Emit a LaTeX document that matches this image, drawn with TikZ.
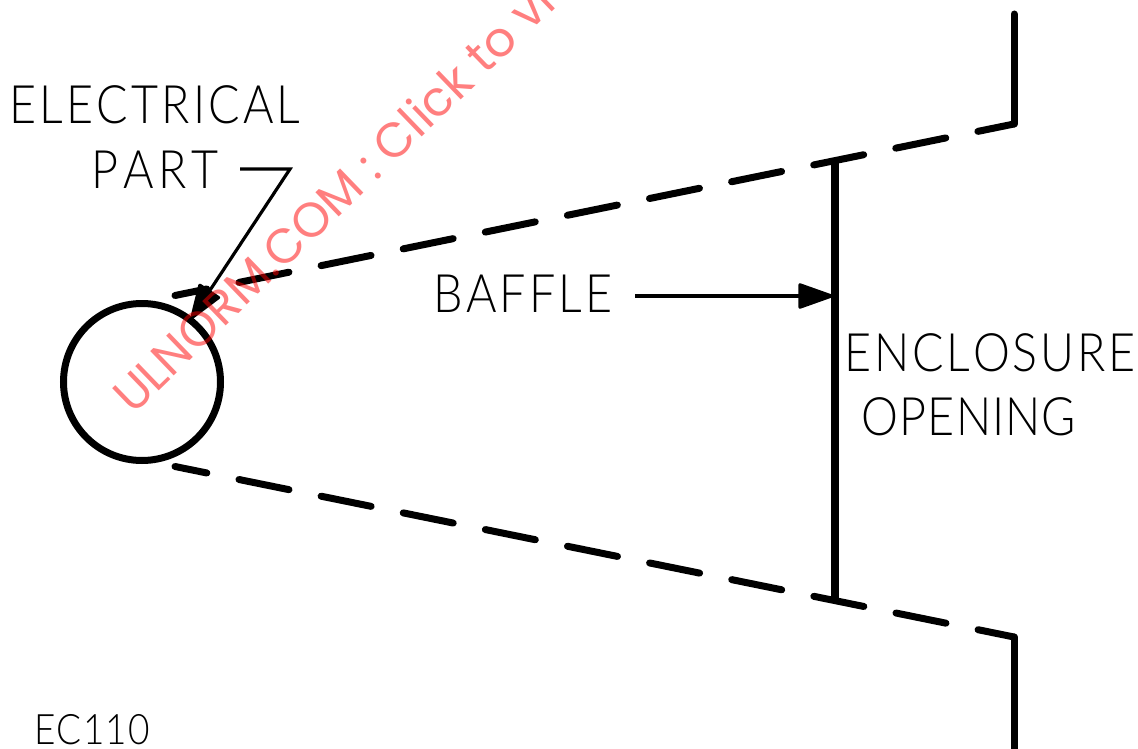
\documentclass[tikz,border=0pt]{standalone}
\usepackage{fontspec}
\usetikzlibrary{arrows.meta}
\newfontfamily\cadfont[FakeStretch=0.88,LetterSpace=6,Kerning=Off]{Lato Light}
\newfontfamily\markfont{Poppins}
\tikzset{
  wall/.style={line width=7pt,line cap=round,line join=round},
  sightline/.style={wall,dash pattern=on 51pt off 32.8pt,dash phase=18.5pt},
  leader/.style={line width=3.2pt,-{Triangle[length=38pt,width=26pt,round]}},
  caption/.style={font=\cadfont\fontsize{53}{53}\selectfont,text=black,inner sep=0pt,anchor=base}
}
\begin{document}
\begin{tikzpicture}[x=1pt,y=-1pt]
  \useasboundingbox (0,0) rectangle (1138,749);

  % part and the two sight lines
  \node[circle,draw,line width=7pt,minimum size=157pt,inner sep=0pt] (part) at (142,382) {};
  \coordinate (topA) at (175,295.5);
  \coordinate (topB) at (1014,124);
  \coordinate (botA) at (175,466.5);
  \coordinate (botB) at (1014,637);
  \draw[sightline] (topA) -- (topB);
  \draw[sightline] (botA) -- (botB);
  \coordinate (wallT) at (1014,14);
  \coordinate (wallB) at (1014,752);
  \draw[wall] (topB) -- (wallT);
  \draw[wall] (botB) -- (wallB);

  % baffle
  \coordinate (baffleT) at (835,160);
  \coordinate (baffleB) at (835,602);
  \draw[line width=8pt] (baffleT) -- (baffleB);

  % labels
  \node[caption] (elec) at (155,124) {ELECTRICAL};
  \node[caption] (prt) at (155,188) {\addfontfeature{LetterSpace=9}PART};
  \node[caption] (baf) at (523,312) {BAFFLE};
  \node[caption] (encl) at (990,371) {\addfontfeature{LetterSpace=5.5}ENCLOSURE};
  \node[caption] (open) at (969,435) {\addfontfeature{LetterSpace=2}OPENING};
  \node[caption,font=\cadfont\fontsize{42}{42}\selectfont] (code) at (92,744) {\addfontfeature{LetterSpace=3}EC110};

  % leaders
  \coordinate (kneeS) at (240,169);
  \coordinate (knee) at (290,169);
  \coordinate (partTip) at (191,319);
  \coordinate (baffleS) at (635,296);
  \coordinate (baffleTip) at (833,296);
  \draw[leader] (kneeS) -- (knee) -- (partTip);
  \draw[leader] (baffleS) -- (baffleTip);

  % watermark, cut off by the page
  \begin{scope}
    \clip (0,0) rectangle (1138,749);
    \node[font=\markfont\fontsize{48.5}{48.5}\selectfont,text=red,text opacity=.5,inner sep=0pt,anchor=base west,rotate=44] (mark) at (133,416) {ULNORM.COM : Click to vi};
  \end{scope}
\end{tikzpicture}
\end{document}
